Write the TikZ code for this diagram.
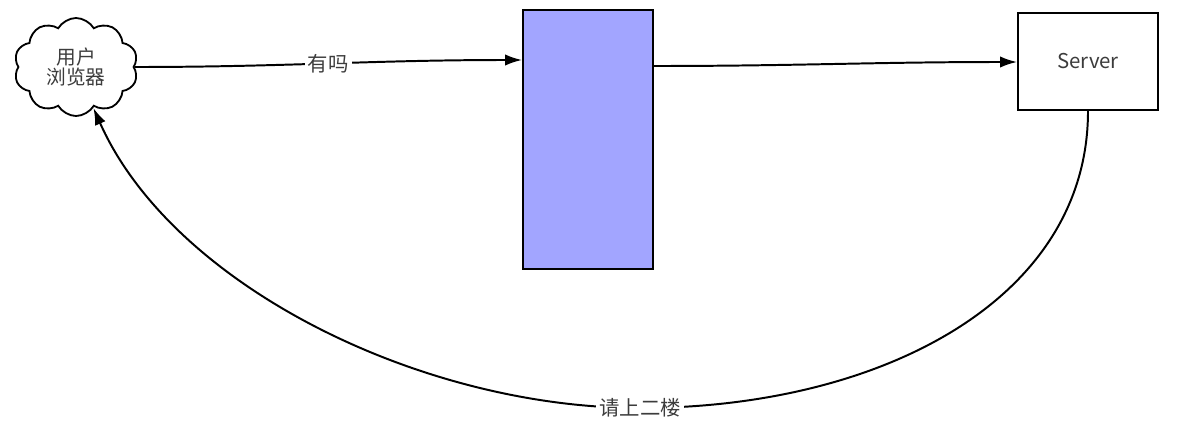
\documentclass[tikz,border=0pt]{standalone}
\usepackage{fontspec}
\setmainfont{Noto Sans CJK SC}
\usepackage{xcolor}
\usepackage{tikz}
\usetikzlibrary{shapes.symbols,arrows.meta,positioning}
\definecolor{proxyblue}{RGB}{162,165,255}
\definecolor{textgray}{RGB}{60,60,60}

\begin{document}
\begin{tikzpicture}[
    x=0.025cm, y=-0.025cm,
    box/.style={rectangle, draw, line width=1.3pt, inner sep=0pt, align=center, font=\fontsize{14.5}{16}\selectfont, text=textgray},
    user/.style={cloud, draw, line width=1.3pt, cloud puffs=10, cloud puff arc=120, aspect=1.25, inner sep=0pt, minimum width=3.1cm, minimum height=2.45cm, align=center, font=\fontsize{14}{14}\selectfont, text=textgray},
    arrow/.style={-{Latex[length=12pt,width=8pt]}, line width=1.4pt},
    tag/.style={fill=white, inner sep=2pt, font=\fontsize{14.5}{16}\selectfont, text=textgray}
]
\useasboundingbox (0,0) rectangle (1196,422);
\node[user] (browser) at (76,67) {用户\\浏览器};
\node[box, fill=proxyblue, minimum width=3.25cm, minimum height=6.475cm] (proxy) at (588,139.5) {};
\node[box, minimum width=3.5cm, minimum height=2.425cm] (server) at (1088,61.5) {Server};
\coordinate (bottom) at (640,408);

\draw[arrow] (browser.east) to[out=0,in=180] node[tag] {有吗} (proxy.west |- 60,60);
\draw[arrow] (proxy.east |- 66,66) to[out=0,in=180] (server.west |- 62,62);
\draw[arrow] (server.south) .. controls (1088,300) and (880,408) .. (bottom)
    node[tag] {请上二楼}
    .. controls (420,408) and (172,285) .. (browser.-67);
\end{tikzpicture}
\end{document}
